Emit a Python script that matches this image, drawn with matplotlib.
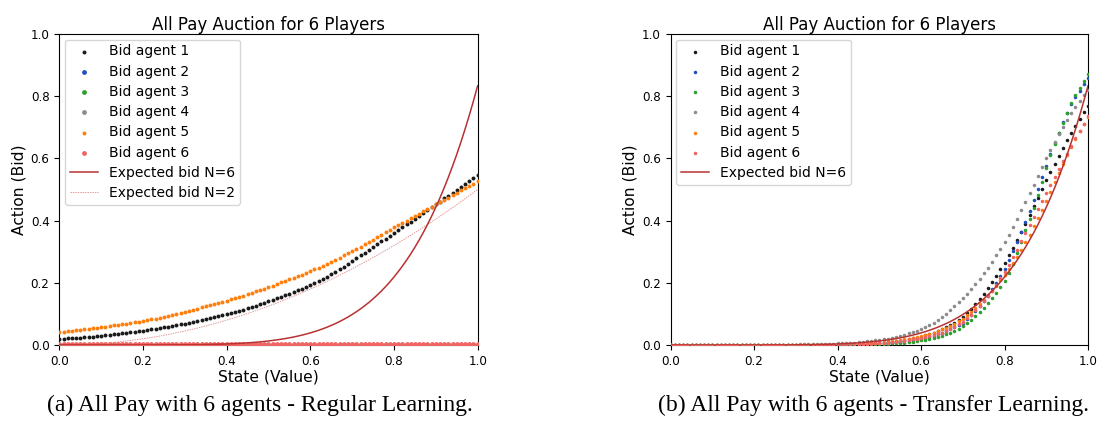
import numpy as np
import matplotlib
matplotlib.use("Agg")
import matplotlib.pyplot as plt

# ---------------- data ----------------
states = np.round(np.arange(101) * 0.01, 2)

# Left: regular learning
reg_agent1 = [0.019,0.020,0.021,0.022,0.023,0.024,0.025,0.026,0.027,0.028,0.030,
              0.031,0.033,0.034,0.036,0.037,0.039,0.041,0.042,0.044,0.046,
              0.048,0.050,0.052,0.054,0.057,0.059,0.061,0.064,0.066,0.069,
              0.072,0.074,0.077,0.080,0.083,0.086,0.089,0.092,0.096,0.099,
              0.103,0.106,0.110,0.114,0.118,0.122,0.126,0.131,0.135,0.140,
              0.145,0.150,0.155,0.160,0.165,0.170,0.176,0.181,0.187,0.193,
              0.199,0.206,0.213,0.220,0.228,0.236,0.244,0.252,0.261,0.270,
              0.279,0.288,0.297,0.306,0.315,0.324,0.333,0.342,0.351,0.360,
              0.369,0.378,0.388,0.397,0.406,0.415,0.424,0.433,0.443,0.452,
              0.461,0.471,0.480,0.490,0.499,0.509,0.518,0.528,0.537,0.547]
reg_agent5 = [0.041,0.042,0.044,0.045,0.047,0.049,0.050,0.052,0.054,0.055,0.057,
              0.059,0.061,0.063,0.065,0.067,0.069,0.071,0.073,0.075,0.077,
              0.080,0.082,0.085,0.088,0.091,0.094,0.097,0.100,0.104,0.107,
              0.110,0.114,0.117,0.121,0.125,0.128,0.132,0.136,0.139,0.143,
              0.147,0.151,0.155,0.159,0.164,0.168,0.172,0.177,0.181,0.186,
              0.191,0.196,0.201,0.206,0.211,0.216,0.221,0.226,0.232,0.237,
              0.243,0.249,0.255,0.261,0.268,0.274,0.281,0.288,0.295,0.302,
              0.309,0.316,0.324,0.331,0.339,0.347,0.354,0.362,0.370,0.378,
              0.385,0.393,0.400,0.408,0.415,0.422,0.430,0.437,0.445,0.452,
              0.459,0.467,0.474,0.482,0.489,0.497,0.504,0.512,0.519,0.527]
reg_agent2 = [0.0] * 101
reg_agent3 = [0.0] * 101
reg_agent4 = [0.0] * 101
reg_agent6 = [0.003] * 101

# Right: transfer learning
tr_agent1 = [0.0] * 40 + [
    0.001,0.001,0.001,0.002,0.002,0.003,0.003,0.004,0.005,0.006,
    0.007,0.008,0.009,0.011,0.012,0.014,0.016,0.018,0.021,0.024,
    0.027,0.031,0.035,0.040,0.045,0.050,0.057,0.064,0.072,0.080,
    0.090,0.103,0.117,0.132,0.148,0.165,0.184,0.203,0.223,0.244,
    0.265,0.289,0.313,0.338,0.364,0.390,0.418,0.446,0.474,0.502,
    0.530,0.557,0.583,0.609,0.634,0.659,0.682,0.705,0.727,0.748,
    0.768]
tr_agent2 = [0.0] * 40 + [
    0.001,0.001,0.001,0.001,0.002,0.002,0.002,0.003,0.003,0.004,
    0.005,0.006,0.007,0.008,0.009,0.010,0.012,0.014,0.016,0.018,
    0.020,0.023,0.026,0.030,0.034,0.038,0.044,0.050,0.057,0.064,
    0.072,0.084,0.096,0.110,0.124,0.140,0.159,0.179,0.200,0.222,
    0.245,0.273,0.302,0.332,0.363,0.395,0.430,0.466,0.502,0.540,
    0.577,0.614,0.649,0.683,0.716,0.747,0.774,0.798,0.818,0.838,
    0.857]
tr_agent3 = [0.0] * 40 + [
    0.000,0.000,0.001,0.001,0.001,0.001,0.002,0.002,0.002,0.003,
    0.003,0.004,0.004,0.005,0.006,0.007,0.008,0.010,0.011,0.013,
    0.015,0.017,0.020,0.023,0.026,0.030,0.035,0.040,0.046,0.053,
    0.060,0.070,0.081,0.093,0.106,0.120,0.135,0.151,0.168,0.186,
    0.205,0.232,0.262,0.295,0.331,0.370,0.405,0.442,0.481,0.525,
    0.570,0.610,0.646,0.680,0.713,0.745,0.777,0.803,0.827,0.849,
    0.870]
tr_agent4 = [0.0] * 20 + [
    0.000,0.000,0.000,0.001,0.001,0.001,0.001,0.001,0.001,0.001,
    0.001,0.002,0.002,0.002,0.002,0.003,0.003,0.003,0.004,0.004,
    0.005,0.006,0.006,0.007,0.008,0.009,0.010,0.012,0.013,0.015,
    0.016,0.018,0.020,0.023,0.026,0.029,0.033,0.037,0.041,0.045,
    0.050,0.057,0.064,0.072,0.080,0.090,0.101,0.112,0.124,0.137,
    0.150,0.165,0.180,0.196,0.213,0.230,0.249,0.268,0.288,0.309,
    0.330,0.355,0.380,0.406,0.433,0.460,0.488,0.516,0.544,0.572,
    0.600,0.626,0.652,0.677,0.701,0.725,0.746,0.766,0.785,0.803,
    0.820]
tr_agent5 = [0.0] * 40 + [
    0.001,0.001,0.002,0.002,0.003,0.004,0.004,0.005,0.006,0.007,
    0.008,0.009,0.010,0.012,0.014,0.016,0.018,0.020,0.023,0.025,
    0.028,0.032,0.036,0.040,0.045,0.050,0.056,0.062,0.069,0.077,
    0.085,0.095,0.106,0.118,0.131,0.145,0.160,0.175,0.191,0.208,
    0.225,0.244,0.263,0.284,0.306,0.330,0.355,0.381,0.408,0.435,
    0.463,0.493,0.523,0.553,0.583,0.611,0.637,0.662,0.687,0.711,
    0.734]
tr_agent6 = [0.001] * 40 + [
    0.001,0.001,0.001,0.002,0.002,0.003,0.003,0.004,0.004,0.005,
    0.006,0.007,0.008,0.009,0.010,0.012,0.014,0.016,0.018,0.020,
    0.022,0.025,0.028,0.032,0.036,0.040,0.046,0.052,0.059,0.067,
    0.075,0.086,0.098,0.111,0.125,0.140,0.157,0.175,0.194,0.214,
    0.235,0.258,0.282,0.307,0.333,0.360,0.386,0.412,0.438,0.464,
    0.490,0.515,0.541,0.566,0.591,0.615,0.640,0.665,0.689,0.712,
    0.735]

# Expected bid curves
expected_n6 = [0.0] * 20 + [
    0.00005,0.00007,0.00009,0.00012,0.00016,0.0002,0.00026,0.00032,0.0004,0.0005,
    0.0006,0.00074,0.00089,0.00108,0.00129,0.00153,0.00181,0.00214,0.00251,0.00293,
    0.00341,0.00396,0.00457,0.00527,0.00605,0.00692,0.00790,0.00898,0.01019,0.01153,
    0.01302,0.01466,0.01648,0.01847,0.02066,0.02307,0.02570,0.02858,0.03172,0.03515,
    0.03888,0.04293,0.04733,0.05210,0.05727,0.06285,0.06888,0.07538,0.08239,0.08993,
    0.09804,0.10675,0.11610,0.12611,0.13684,0.14832,0.16058,0.17369,0.18767,0.20257,
    0.21845,0.23536,0.25334,0.27245,0.29275,0.31429,0.33714,0.36135,0.38700,0.41415,
    0.44287,0.47322,0.50530,0.53916,0.57489,0.61258,0.65230,0.69414,0.73820,0.78457,
    0.83333]
expected_n2 = [
    0.0,0.00005,0.0002,0.00045,0.0008,0.00125,0.0018,0.00245,0.0032,0.00405,
    0.005,0.00605,0.0072,0.00845,0.0098,0.01125,0.0128,0.01445,0.0162,0.01805,
    0.02,0.02205,0.0242,0.02645,0.0288,0.03125,0.0338,0.03645,0.0392,0.04205,
    0.045,0.04805,0.0512,0.05445,0.0578,0.06125,0.0648,0.06845,0.0722,0.07605,
    0.08,0.08405,0.0882,0.09245,0.0968,0.10125,0.1058,0.11045,0.1152,0.12005,
    0.125,0.13005,0.1352,0.14045,0.1458,0.15125,0.1568,0.16245,0.1682,0.17405,
    0.18,0.18605,0.1922,0.19845,0.2048,0.21125,0.2178,0.22445,0.2312,0.23805,
    0.245,0.25205,0.2592,0.26645,0.2738,0.28125,0.2888,0.29645,0.3042,0.31205,
    0.32,0.32805,0.3362,0.34445,0.3528,0.36125,0.3698,0.37845,0.3872,0.39605,
    0.405,0.41405,0.4232,0.43245,0.4418,0.45125,0.4608,0.47045,0.4802,0.49005,
    0.5]

agent_labels = ["Bid agent 1", "Bid agent 2", "Bid agent 3",
                "Bid agent 4", "Bid agent 5", "Bid agent 6"]
agent_colors = ["#1a1a1a", "#2050c0", "#2ca02c", "#8c8c8c", "#ff7f0e", "#f06464"]
title = "All Pay Auction for 6 Players"
captions = ["(a) All Pay with 6 agents - Regular Learning.",
            "(b) All Pay with 6 agents - Transfer Learning."]

# ---------------- figure ----------------
fig = plt.figure(figsize=(10.99, 4.30), dpi=100)
ax1 = fig.add_axes([0.0540, 0.1977, 0.3806, 0.7233])
ax2 = fig.add_axes([0.6103, 0.1977, 0.3797, 0.7233])

TICK = 8.6
LAB = 11.2
TTL = 12.0
LEG = 10.0

def style(ax):
    ax.set_xlim(0, 1)
    ax.set_ylim(0, 1)
    ax.set_xticks([0, 0.2, 0.4, 0.6, 0.8, 1.0])
    ax.set_yticks([0, 0.2, 0.4, 0.6, 0.8, 1.0])
    ax.tick_params(labelsize=TICK, length=3.5, width=0.8)
    ax.set_xlabel("State (Value)", fontsize=LAB, labelpad=1)
    ax.set_ylabel("Action (Bid)", fontsize=LAB, labelpad=3)
    ax.set_title(title, fontsize=TTL, pad=3)

# left panel
left_series = [reg_agent1, reg_agent2, reg_agent3, reg_agent4, reg_agent5, reg_agent6]
left_sizes = [8, 12, 12, 12, 8, 12]
for ys, lab, col, s in zip(left_series, agent_labels, agent_colors, left_sizes):
    ax1.scatter(states, ys, s=s, color=col, marker="o", linewidths=0, label=lab, zorder=3)
ax1.plot(states, expected_n6, color="#b83232", lw=1.1, label="Expected bid N=6", zorder=4)
ax1.plot(states, expected_n2, color="#e39a9a", lw=0.7, ls=(0, (1.5, 1)), label="Expected bid N=2", zorder=2)
style(ax1)
ax1.legend(loc="upper left", fontsize=LEG, labelspacing=0.45, handlelength=2.0,
           borderaxespad=0.4, handletextpad=0.8, borderpad=0.35)

# right panel
right_series = [tr_agent1, tr_agent2, tr_agent3, tr_agent4, tr_agent5, tr_agent6]
for ys, lab, col in zip(right_series, agent_labels, agent_colors):
    ax2.scatter(states, ys, s=6.5, color=col, marker="o", linewidths=0, label=lab, zorder=3)
ax2.plot(states, expected_n6, color="#b83232", lw=1.1, label="Expected bid N=6", zorder=4)
style(ax2)
ax2.legend(loc="upper left", fontsize=LEG, labelspacing=0.45, handlelength=2.0,
           borderaxespad=0.4, handletextpad=0.8, borderpad=0.35)

fig.text(0.2365, 0.058, captions[0], ha="center", va="center",
         fontsize=17, family=["Liberation Serif", "DejaVu Serif"])
fig.text(0.7945, 0.058, captions[1], ha="center", va="center",
         fontsize=17, family=["Liberation Serif", "DejaVu Serif"])

fig.savefig("out.png", dpi=100)
